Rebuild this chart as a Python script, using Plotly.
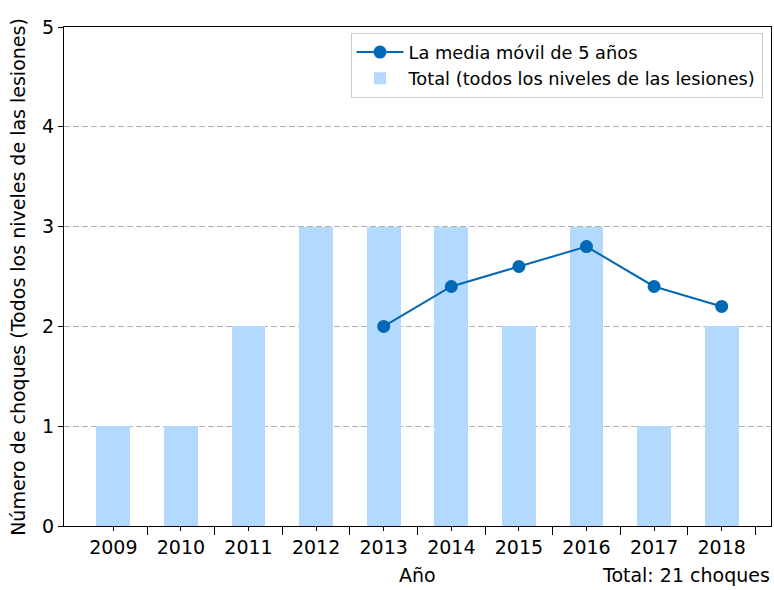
import plotly.graph_objects as go

years = ["2009", "2010", "2011", "2012", "2013", "2014", "2015", "2016", "2017", "2018"]
totals = [1, 1, 2, 3, 3, 3, 2, 3, 1, 2]
ma_years = ["2013", "2014", "2015", "2016", "2017", "2018"]
moving_avg = [2.0, 2.4, 2.6, 2.8, 2.4, 2.2]
y_ticks = [0, 1, 2, 3, 4, 5]

xpos = list(range(len(years)))
ma_pos = [years.index(y) for y in ma_years]

font = "DejaVu Sans, Verdana, sans-serif"
line_color = "#0068b4"
bar_color = "#b3d9ff"

fig = go.Figure()
fig.add_trace(go.Bar(
    x=xpos, y=totals, width=0.5, marker=dict(color=bar_color, line=dict(width=0)),
    name="Total (todos los niveles de las lesiones)", legendrank=2,
))
fig.add_trace(go.Scatter(
    x=ma_pos, y=moving_avg, mode="lines+markers",
    line=dict(color=line_color, width=2),
    marker=dict(color=line_color, size=13),
    name="La media móvil de 5 años", legendrank=1,
))

fig.update_layout(
    width=774, height=590,
    margin=dict(l=64, r=3, t=27, b=64, autoexpand=False),
    plot_bgcolor="white", paper_bgcolor="white",
    font=dict(family=font, size=19, color="black"),
    showlegend=True,
    legend=dict(
        x=0.988, y=0.988, xanchor="right", yanchor="top",
        bgcolor="white", bordercolor="#cccccc", borderwidth=1,
        font=dict(size=17.8), traceorder="normal", itemwidth=47,
    ),
    bargap=0,
)
fig.update_xaxes(
    range=[-0.73, 9.73], automargin=False,
    tickmode="array", tickvals=xpos, ticktext=years,
    ticks="outside", ticklen=4, tickcolor="black", tickwidth=1,
    minor=dict(tickmode="array", tickvals=[p + 0.5 for p in xpos],
               ticks="outside", ticklen=8, tickcolor="black", tickwidth=1, showgrid=False),
    showline=True, linecolor="black", linewidth=1, mirror=True,
    showgrid=False, zeroline=False,
)
fig.update_yaxes(
    range=[0, 5], tickmode="array", tickvals=y_ticks, automargin=False,
    ticks="outside", ticklen=5, tickcolor="black", tickwidth=1,
    showline=True, linecolor="black", linewidth=1, mirror=True,
    showgrid=True, gridcolor="#b0b0b0", gridwidth=1, griddash="6px,3px",
    zeroline=False,
)
fig.add_annotation(
    text="Número de choques (Todos los niveles de las lesiones)", textangle=-90,
    xref="paper", yref="paper", x=-0.066, y=0.5, xanchor="center", yanchor="middle",
    showarrow=False, font=dict(size=19),
)
fig.add_annotation(
    text="Año", xref="paper", yref="paper", x=0.5, y=-0.099,
    xanchor="center", yanchor="middle", showarrow=False, font=dict(size=19),
)
fig.add_annotation(
    text="Total: 21 choques", xref="paper", yref="paper",
    x=1.002, y=-0.099, xanchor="right", yanchor="middle", showarrow=False,
    font=dict(size=19),
)

fig.write_html(
    "out.html",
    config={"displayModeBar": False},
    post_script="document.body.style.margin='0';document.body.style.overflow='hidden';",
)
